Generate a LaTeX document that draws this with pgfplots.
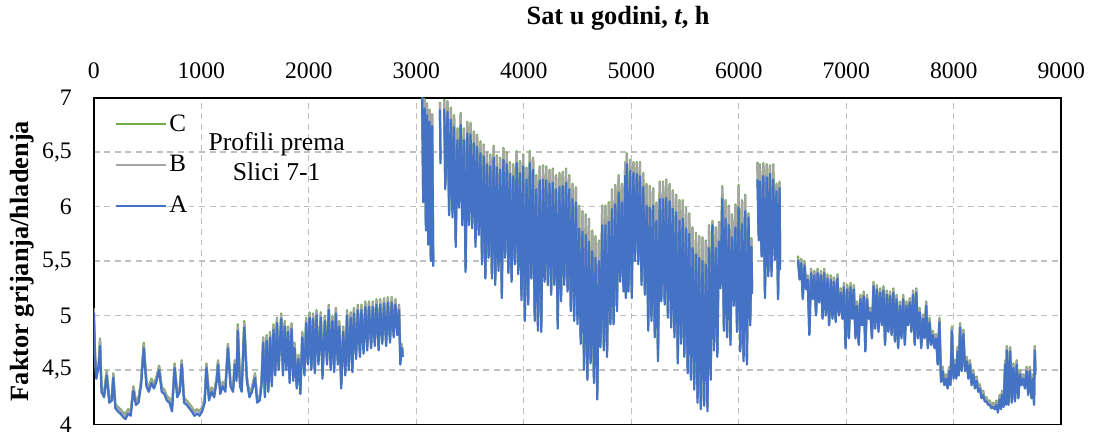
\documentclass[border=0pt]{standalone}
\usepackage{fontspec}
\setmainfont{Liberation Serif}
\usepackage{pgfplots}
\usepackage{pgfplotstable}
\pgfplotsset{compat=1.18}
\definecolor{cA}{HTML}{4472C4}
\definecolor{cB}{HTML}{A5A5A5}
\definecolor{cC}{HTML}{70AD47}
\definecolor{cGrid}{HTML}{BFBFBF}
\pgfplotstableread{
h A B C
0 5.03 5.06 5.07
12 4.60 4.63 4.64
24 4.42 4.45 4.46
48 4.55 4.58 4.59
58 4.72 4.78 4.79
72 4.30 4.33 4.34
96 4.25 4.28 4.29
120 4.45 4.48 4.49
144 4.20 4.23 4.24
168 4.22 4.25 4.26
182 4.43 4.46 4.47
200 4.15 4.18 4.19
224 4.12 4.15 4.16
248 4.10 4.13 4.14
272 4.07 4.10 4.11
296 4.05 4.08 4.10
320 4.10 4.13 4.14
344 4.08 4.11 4.12
368 4.31 4.34 4.35
392 4.18 4.21 4.22
416 4.20 4.23 4.24
440 4.36 4.39 4.40
465 4.70 4.73 4.75
490 4.35 4.38 4.39
512 4.30 4.33 4.34
536 4.38 4.41 4.42
560 4.33 4.36 4.37
584 4.40 4.43 4.44
608 4.50 4.53 4.54
632 4.30 4.33 4.34
656 4.28 4.31 4.32
680 4.22 4.25 4.26
704 4.20 4.23 4.24
728 4.12 4.15 4.16
752 4.52 4.55 4.56
776 4.25 4.28 4.29
800 4.30 4.33 4.34
818 4.55 4.58 4.59
840 4.20 4.23 4.24
864 4.18 4.21 4.22
888 4.15 4.18 4.19
912 4.12 4.15 4.16
936 4.08 4.11 4.12
960 4.10 4.13 4.14
984 4.08 4.11 4.12
1008 4.12 4.15 4.16
1032 4.20 4.23 4.24
1048 4.52 4.55 4.56
1072 4.22 4.25 4.26
1096 4.30 4.33 4.34
1120 4.25 4.28 4.29
1144 4.40 4.43 4.44
1156 4.55 4.58 4.59
1176 4.28 4.31 4.32
1200 4.35 4.38 4.39
1224 4.30 4.33 4.34
1248 4.70 4.73 4.74
1272 4.35 4.38 4.39
1296 4.30 4.33 4.34
1312 4.55 4.58 4.59
1328 4.40 4.43 4.44
1340 4.86 4.90 4.92
1360 4.35 4.38 4.39
1376 4.30 4.33 4.34
1400 4.89 4.93 4.95
1424 4.40 4.43 4.44
1448 4.25 4.28 4.29
1472 4.30 4.33 4.34
1500 4.43 4.46 4.47
1520 4.20 4.23 4.24
1544 4.22 4.25 4.26
1560 4.35 4.38 4.39
1576 4.75 4.79 4.80
1592 4.25 4.28 4.29
1608 4.77 4.81 4.82
1624 4.30 4.33 4.34
1640 4.80 4.84 4.85
1656 4.35 4.38 4.39
1672 4.87 4.91 4.92
1688 4.45 4.48 4.49
1704 4.93 4.97 4.98
1720 4.50 4.53 4.54
1744 4.97 5.01 5.02
1760 4.45 4.48 4.49
1776 4.90 4.94 4.95
1792 4.50 4.53 4.54
1808 4.85 4.89 4.90
1822 4.38 4.41 4.42
1840 4.88 4.92 4.93
1856 4.40 4.43 4.44
1868 4.70 4.74 4.75
1888 4.33 4.36 4.37
1904 4.60 4.63 4.64
1922 4.28 4.31 4.32
1940 4.80 4.84 4.85
1960 4.45 4.48 4.49
1976 4.93 4.97 4.98
1992 4.55 4.58 4.59
2008 4.98 5.02 5.03
2024 4.50 4.53 4.54
2040 4.97 5.01 5.02
2056 4.47 4.50 4.51
2072 5.00 5.04 5.05
2090 4.55 4.58 4.59
2112 4.98 5.02 5.03
2128 4.42 4.45 4.46
2150 4.95 4.99 5.00
2170 4.55 4.58 4.59
2186 5.05 5.09 5.10
2204 4.50 4.53 4.54
2220 4.95 4.99 5.00
2236 4.48 4.51 4.52
2252 5.02 5.06 5.07
2270 4.55 4.58 4.59
2284 4.90 4.94 4.95
2302 4.33 4.36 4.37
2320 4.85 4.89 4.90
2340 4.45 4.48 4.49
2356 5.00 5.04 5.05
2372 4.50 4.53 4.54
2390 4.98 5.02 5.03
2406 4.48 4.51 4.52
2420 5.02 5.06 5.07
2440 4.60 4.63 4.64
2456 5.05 5.09 5.10
2476 4.62 4.65 4.66
2490 5.05 5.09 5.10
2510 4.65 4.68 4.69
2526 5.08 5.12 5.13
2544 4.68 4.71 4.72
2560 5.08 5.12 5.13
2580 4.70 4.73 4.74
2596 5.08 5.12 5.13
2614 4.72 4.75 4.76
2630 5.10 5.14 5.15
2650 4.68 4.71 4.72
2664 5.10 5.14 5.15
2684 4.74 4.77 4.78
2700 5.11 5.15 5.16
2720 4.72 4.75 4.76
2736 5.12 5.16 5.17
2756 4.75 4.78 4.79
2772 5.12 5.16 5.17
2790 4.80 4.83 4.84
2806 5.10 5.14 5.15
2824 4.82 4.85 4.86
2840 5.05 5.09 5.10
2852 4.55 4.58 4.59
2864 4.70 4.73 4.74
2876 4.62 4.65 4.66
2960 nan nan nan
3055 7.00 7.00 7.00
3065 6.04 6.08 6.09
3078 6.90 6.98 6.99
3090 5.78 5.82 5.83
3100 6.84 6.94 6.95
3112 5.65 5.69 5.70
3124 6.78 6.88 6.89
3136 5.50 5.54 5.55
3148 6.74 6.84 6.85
3158 5.45 5.49 5.50
3190 nan nan nan
3220 6.89 6.95 6.96
3226 6.39 6.43 6.44
3243 nan nan nan
3260 6.90 6.98 6.99
3270 6.16 6.20 6.21
3291 6.87 6.96 6.97
3306 5.92 5.96 5.97
3322 6.80 6.90 6.91
3337 5.90 5.94 5.95
3352 6.73 6.83 6.84
3367 5.63 5.67 5.68
3383 6.61 6.71 6.72
3398 5.99 6.03 6.04
3413 6.75 6.85 6.86
3428 5.83 5.87 5.88
3444 6.61 6.71 6.72
3459 5.40 5.44 5.45
3475 6.67 6.77 6.78
3490 5.83 5.87 5.88
3505 6.66 6.76 6.77
3520 5.80 5.84 5.85
3536 6.58 6.68 6.69
3551 5.63 5.67 5.68
3566 6.55 6.65 6.66
3581 5.74 5.78 5.79
3597 6.49 6.59 6.60
3612 5.47 5.51 5.52
3628 6.46 6.56 6.57
3643 5.34 5.38 5.39
3658 6.39 6.49 6.50
3673 5.53 5.57 5.58
3689 6.37 6.47 6.48
3704 5.34 5.38 5.39
3720 6.45 6.55 6.56
3735 5.28 5.32 5.33
3750 6.36 6.46 6.47
3765 5.41 5.45 5.46
3781 6.34 6.44 6.45
3796 5.16 5.20 5.21
3811 6.43 6.53 6.54
3826 5.53 5.57 5.58
3842 6.39 6.49 6.50
3857 5.39 5.43 5.44
3872 6.30 6.40 6.41
3887 5.31 5.35 5.36
3903 6.28 6.38 6.39
3918 5.47 5.51 5.52
3934 6.40 6.50 6.51
3949 5.38 5.42 5.43
3964 6.31 6.41 6.42
3979 5.14 5.18 5.19
3995 6.37 6.47 6.48
4010 4.95 4.99 5.00
4026 6.25 6.35 6.36
4041 5.10 5.14 5.15
4056 6.40 6.50 6.51
4071 5.34 5.38 5.39
4087 6.34 6.44 6.45
4102 4.95 4.99 5.00
4117 6.16 6.28 6.29
4132 4.86 4.90 4.91
4148 6.24 6.36 6.37
4163 4.85 4.89 4.90
4179 6.25 6.37 6.38
4194 5.31 5.35 5.36
4209 6.24 6.36 6.37
4224 5.28 5.32 5.33
4240 6.21 6.33 6.34
4255 5.19 5.23 5.24
4270 6.22 6.34 6.35
4285 5.28 5.32 5.33
4301 6.16 6.28 6.29
4316 4.88 4.92 4.93
4332 6.18 6.30 6.31
4347 5.13 5.17 5.18
4362 6.19 6.31 6.32
4377 5.28 5.32 5.33
4393 6.22 6.34 6.35
4408 5.22 5.26 5.27
4423 6.16 6.28 6.29
4438 5.04 5.08 5.09
4454 6.07 6.20 6.21
4469 4.95 4.99 5.00
4485 6.04 6.17 6.18
4500 4.92 4.96 4.97
4515 5.80 6.00 6.01
4530 4.74 4.78 4.79
4546 5.77 5.95 5.96
4561 4.50 4.54 4.55
4577 5.74 5.92 5.93
4592 4.41 4.45 4.46
4607 5.68 5.88 5.89
4622 4.56 4.60 4.61
4638 5.59 5.77 5.78
4653 4.38 4.42 4.43
4668 5.53 5.72 5.73
4684 4.23 4.27 4.28
4699 5.50 5.68 5.69
4714 4.71 4.75 4.76
4730 5.83 6.00 6.01
4745 4.68 4.72 4.73
4760 5.83 6.00 6.01
4775 4.62 4.66 4.67
4791 5.86 6.03 6.04
4806 4.92 4.96 4.97
4821 5.98 6.15 6.16
4836 4.92 4.96 4.97
4852 6.02 6.19 6.20
4867 5.04 5.08 5.09
4883 6.13 6.28 6.29
4898 5.31 5.35 5.36
4913 6.04 6.20 6.21
4928 5.22 5.26 5.27
4944 6.28 6.40 6.41
4950 5.16 5.20 5.21
4959 6.39 6.48 6.49
4974 5.22 5.26 5.27
4990 6.33 6.42 6.43
5005 5.16 5.20 5.21
5020 6.31 6.40 6.41
5035 5.50 5.54 5.55
5051 6.30 6.40 6.41
5066 5.47 5.51 5.52
5081 6.28 6.40 6.41
5096 5.28 5.32 5.33
5112 6.18 6.30 6.31
5127 5.19 5.23 5.24
5143 6.01 6.20 6.21
5158 4.86 4.90 4.91
5173 5.99 6.18 6.19
5188 4.95 4.99 5.00
5204 6.01 6.16 6.17
5219 4.80 4.84 4.85
5234 5.87 6.03 6.04
5249 4.58 4.62 4.63
5265 6.07 6.22 6.23
5280 5.13 5.17 5.18
5296 6.07 6.22 6.23
5311 5.10 5.14 5.15
5326 6.08 6.24 6.25
5341 4.98 5.02 5.03
5357 6.05 6.20 6.21
5372 4.89 4.93 4.94
5387 5.98 6.14 6.15
5402 4.80 4.84 4.85
5418 5.95 6.10 6.11
5433 4.56 4.60 4.61
5449 5.87 6.05 6.06
5464 4.74 4.78 4.79
5479 5.89 6.05 6.06
5494 4.62 4.66 4.67
5510 5.80 5.98 5.99
5525 4.47 4.51 4.52
5540 5.75 5.93 5.94
5555 4.41 4.45 4.46
5571 5.62 5.80 5.81
5586 4.32 4.36 4.37
5602 5.56 5.75 5.76
5617 4.20 4.24 4.25
5632 5.53 5.72 5.73
5647 4.14 4.18 4.19
5663 5.50 5.71 5.72
5678 4.17 4.21 4.22
5694 5.47 5.68 5.69
5709 4.12 4.16 4.17
5724 5.62 5.82 5.83
5739 4.41 4.45 4.46
5755 5.83 5.86 5.87
5770 4.68 4.72 4.73
5786 5.62 5.80 5.81
5801 4.62 4.66 4.67
5816 5.68 5.85 5.86
5831 5.25 5.29 5.30
5847 6.07 6.18 6.19
5862 4.86 4.90 4.91
5877 5.89 6.05 6.06
5892 4.80 4.84 4.85
5908 5.83 6.00 6.01
5923 4.73 4.77 4.78
5938 5.72 5.92 5.93
5954 5.09 5.13 5.14
5969 5.81 6.01 6.02
5984 4.85 4.89 4.90
5999 5.99 6.19 6.20
6015 4.67 4.71 4.72
6030 5.84 6.05 6.06
6045 4.58 4.62 4.63
6060 5.96 6.10 6.11
6076 4.55 4.59 4.60
6091 5.90 5.93 5.94
6107 4.91 4.95 4.96
6118 5.63 5.70 5.71
6124 5.20 5.24 5.25
6150 nan nan nan
6174 6.25 6.40 6.41
6186 5.69 5.73 5.74
6198 6.23 6.38 6.39
6213 5.54 5.58 5.59
6229 6.28 6.39 6.40
6244 5.16 5.20 5.21
6260 6.27 6.38 6.39
6275 5.36 5.40 5.41
6290 6.30 6.37 6.38
6305 5.36 5.40 5.41
6321 6.25 6.38 6.39
6336 5.51 5.55 5.56
6351 6.14 6.20 6.21
6366 5.15 5.19 5.20
6380 6.17 6.22 6.23
6385 5.42 5.46 5.47
6460 nan nan nan
6551 5.51 5.53 5.55
6566 5.33 5.35 5.35
6581 5.48 5.51 5.52
6596 5.15 5.17 5.17
6612 5.46 5.49 5.50
6627 5.24 5.26 5.26
6642 5.33 5.36 5.37
6657 4.82 4.84 4.84
6673 5.39 5.42 5.43
6688 5.15 5.17 5.17
6704 5.37 5.40 5.41
6719 5.00 5.02 5.02
6734 5.39 5.42 5.43
6749 5.12 5.14 5.14
6765 5.37 5.40 5.41
6780 4.97 4.99 4.99
6795 5.39 5.42 5.43
6810 5.00 5.02 5.02
6826 5.34 5.37 5.38
6841 4.91 4.93 4.93
6857 5.33 5.36 5.37
6872 4.97 4.99 4.99
6887 5.31 5.34 5.35
6902 4.94 4.96 4.96
6918 5.34 5.37 5.38
6933 5.00 5.02 5.02
6949 5.21 5.24 5.25
6964 4.97 4.99 4.99
6979 5.26 5.29 5.30
6994 4.70 4.72 4.72
7010 5.24 5.27 5.28
7025 4.79 4.81 4.81
7040 5.26 5.29 5.30
7055 4.97 4.99 4.99
7071 5.24 5.27 5.28
7086 4.79 4.81 4.81
7101 5.09 5.12 5.13
7116 4.73 4.75 4.75
7132 5.15 5.18 5.19
7147 4.91 4.93 4.93
7163 5.18 5.21 5.22
7178 4.67 4.69 4.69
7193 5.15 5.18 5.19
7208 4.97 4.99 4.99
7224 5.03 5.06 5.07
7239 4.79 4.81 4.81
7254 5.27 5.30 5.31
7269 4.88 4.90 4.90
7285 5.24 5.27 5.28
7300 4.85 4.87 4.87
7316 5.21 5.24 5.25
7331 4.91 4.93 4.93
7346 5.23 5.26 5.27
7361 4.73 4.75 4.75
7377 5.19 5.22 5.23
7392 4.85 4.87 4.87
7407 5.18 5.21 5.22
7422 4.82 4.84 4.84
7438 5.21 5.24 5.25
7453 4.76 4.78 4.78
7468 5.15 5.18 5.19
7483 4.70 4.72 4.72
7499 5.09 5.12 5.13
7514 4.79 4.81 4.81
7530 5.15 5.18 5.19
7545 4.73 4.75 4.75
7560 5.09 5.12 5.13
7575 4.91 4.93 4.93
7591 5.12 5.15 5.16
7606 4.85 4.87 4.87
7622 5.19 5.22 5.23
7637 4.73 4.75 4.75
7652 5.21 5.24 5.25
7667 4.79 4.81 4.81
7683 5.03 5.06 5.07
7698 4.70 4.72 4.72
7714 4.97 5.00 5.01
7729 4.79 4.81 4.81
7744 5.09 5.12 5.13
7759 4.70 4.72 4.72
7775 4.94 4.97 4.98
7790 4.73 4.75 4.75
7806 4.82 4.85 4.86
7821 4.70 4.72 4.72
7836 4.79 4.82 4.83
7851 4.55 4.57 4.57
7867 4.94 4.97 4.98
7882 4.39 4.41 4.41
7897 4.49 4.52 4.53
7912 4.36 4.38 4.38
7928 4.42 4.45 4.46
7943 4.33 4.35 4.35
7958 4.49 4.52 4.53
7970 4.36 4.38 4.38
7983 4.86 4.89 4.90
7998 4.42 4.44 4.44
8013 4.55 4.58 4.59
8024 4.42 4.44 4.44
8035 4.67 4.70 4.71
8047 4.45 4.47 4.47
8059 4.89 4.92 4.93
8074 4.49 4.51 4.51
8090 4.83 4.86 4.87
8105 4.49 4.51 4.51
8121 4.58 4.61 4.62
8136 4.42 4.44 4.44
8151 4.55 4.58 4.59
8166 4.36 4.38 4.38
8182 4.46 4.49 4.50
8197 4.33 4.35 4.35
8213 4.40 4.43 4.44
8228 4.30 4.32 4.32
8243 4.33 4.36 4.37
8258 4.24 4.26 4.26
8274 4.27 4.30 4.31
8289 4.21 4.23 4.23
8305 4.21 4.24 4.25
8320 4.18 4.20 4.20
8335 4.18 4.21 4.22
8350 4.15 4.17 4.17
8366 4.16 4.19 4.20
8381 4.14 4.16 4.16
8396 4.18 4.21 4.22
8411 4.11 4.13 4.13
8427 4.23 4.26 4.27
8440 4.14 4.16 4.16
8449 4.27 4.30 4.31
8464 4.16 4.18 4.18
8479 4.55 4.58 4.59
8487 4.18 4.20 4.20
8494 4.68 4.71 4.72
8510 4.18 4.20 4.20
8525 4.67 4.70 4.71
8540 4.20 4.22 4.22
8555 4.52 4.55 4.56
8570 4.21 4.23 4.23
8586 4.55 4.58 4.59
8601 4.24 4.26 4.26
8617 4.46 4.49 4.50
8632 4.36 4.38 4.38
8647 4.42 4.45 4.46
8662 4.33 4.35 4.35
8678 4.49 4.52 4.53
8693 4.27 4.29 4.29
8708 4.49 4.52 4.53
8723 4.24 4.26 4.26
8739 4.42 4.45 4.46
8747 4.18 4.20 4.20
8754 4.68 4.71 4.72
8760 4.46 4.49 4.50
}\data
\begin{document}
\begin{tikzpicture}
\path[use as bounding box] (-71.25pt,-9.5pt) rectangle (766pt,322.5pt);
\begin{axis}[
  at={(0,0)}, anchor=south west,
  scale only axis, width=735pt, height=248.25pt,
  xmin=0, xmax=9000, ymin=4, ymax=7,
  xtick={0,1000,...,9000},
  ytick={4,4.5,...,7},
  xticklabel pos=upper,
  major tick length=0pt,
  /pgf/number format/assume math mode=true,
  /pgf/number format/use comma,
  /pgf/number format/1000 sep={},
  tick label style={font=\fontsize{18}{20}\selectfont},
  xticklabel style={anchor=base, yshift=14.25pt},
  yticklabel style={anchor=east, inner sep=0pt, xshift=-16.5pt},
  grid=major,
  major grid style={cGrid, line width=1.1pt, dash pattern=on 4.5pt off 3.5pt},
  axis line style={black, line width=1.3pt},
  unbounded coords=jump,
  title={\textbf{Sat u godini, \textit{t}, h}},
  title style={at={(0.542,1)}, anchor=base, yshift=49.5pt, font=\fontsize{20}{24}\selectfont},
  ylabel={\textbf{Faktor grijanja/hladenja}},
  ylabel style={font=\fontsize{20}{24}\selectfont, at={(axis description cs:-0.074,0.5)}, anchor=center},
  legend cell align=left,
  legend style={at={(axis description cs:0.022,0.955)}, anchor=north west, draw=none, fill=none,
    font=\fontsize{19}{22}\selectfont, row sep=14pt, inner sep=0pt,
    nodes={inner sep=1.5pt}},
  legend image code/.code={\draw[#1, line width=1.5pt] (0pt,0pt) -- (38pt,0pt);},
  every axis plot/.append style={line join=round, line width=1.7pt},
]
\addplot[color=cC] table[x=h, y=C] {\data};
\addlegendentry{C}
\addplot[color=cB] table[x=h, y=B] {\data};
\addlegendentry{B}
\addplot[color=cA] table[x=h, y=A] {\data};
\addlegendentry{A}
\node[font=\fontsize{19.5}{22}\selectfont, anchor=base] at (axis description cs:0.189,1) [yshift=-39.75pt] {Profili prema};
\node[font=\fontsize{19.5}{22}\selectfont, anchor=base] at (axis description cs:0.189,1) [yshift=-63pt] {Slici 7-1};
\end{axis}
\end{tikzpicture}
\end{document}
